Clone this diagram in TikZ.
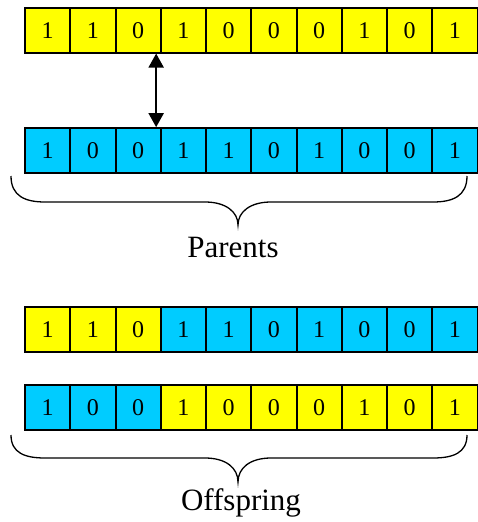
\documentclass[tikz,border=0pt]{standalone}
\usepackage{fontspec}
\setmainfont{Liberation Serif}
\usetikzlibrary{arrows.meta}
\definecolor{genyellow}{RGB}{255,255,0}
\definecolor{gencyan}{RGB}{0,204,255}
\begin{document}
\begin{tikzpicture}[x=1pt,y=-1pt,
  cell/.style={draw=black, line width=2pt, minimum width=45.25pt, minimum height=44.7pt,
    inner sep=0pt, font=\fontsize{24}{24}\selectfont, text=black},
  lbl/.style={font=\fontsize{31}{31}\selectfont, inner sep=0pt, anchor=base, text=black},
  bracepath/.style={draw=black, line width=1.3pt},
  xarrow/.style={draw=black, line width=2pt, {Triangle[width=15pt,length=14pt]}-{Triangle[width=15pt,length=14pt]}}]
\useasboundingbox (0,0) rectangle (478,522);
% parents
\foreach \b [count=\i] in {1,1,0,1,0,0,0,1,0,1}
  \node[cell, fill=genyellow] (a\i) at ({25+45.25*(\i-0.5)},30.2) {\b};
\foreach \b [count=\i] in {1,0,0,1,1,0,1,0,0,1}
  \node[cell, fill=gencyan] (b\i) at ({25+45.25*(\i-0.5)},150.5) {\b};
% offspring
\foreach \b/\c [count=\i] in {1/genyellow,1/genyellow,0/genyellow,1/gencyan,1/gencyan,0/gencyan,1/gencyan,0/gencyan,0/gencyan,1/gencyan}
  \node[cell, fill=\c] (c\i) at ({25+45.25*(\i-0.5)},329.2) {\b};
\foreach \b/\c [count=\i] in {1/gencyan,0/gencyan,0/gencyan,1/genyellow,0/genyellow,0/genyellow,0/genyellow,1/genyellow,0/genyellow,1/genyellow}
  \node[cell, fill=\c] (d\i) at ({25+45.25*(\i-0.5)},407.5) {\b};
% crossover point arrow
\draw[xarrow] ([xshift=-3.6pt]a4.south west) -- ([xshift=-3.6pt]b4.north west);
% braces
\draw[bracepath] (11,176) .. controls (11,196) and (25,202) .. (45,202) -- (205,202)
  .. controls (226,202) and (238,212) .. (238,225)
  .. controls (238,212) and (250,202) .. (271,202) -- (433,202)
  .. controls (453,202) and (467,196) .. (467,176);
\draw[bracepath] (11,435) .. controls (11,453) and (25,458) .. (45,458) -- (205,458)
  .. controls (226,458) and (238,468) .. (238,482)
  .. controls (238,468) and (250,458) .. (271,458) -- (433,458)
  .. controls (453,458) and (467,453) .. (467,435);
% labels
\node[lbl] (parents) at (233,257) {Parents};
\node[lbl] (offspring) at (241,510) {Offspring};
\end{tikzpicture}
\end{document}
